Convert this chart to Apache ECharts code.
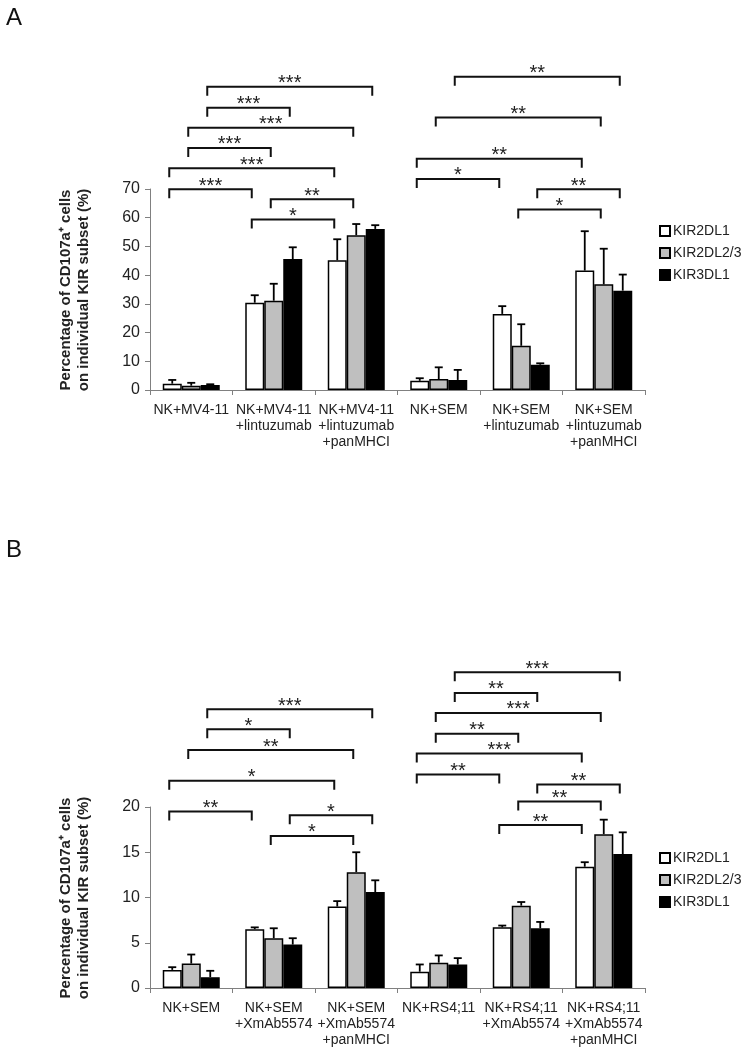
<!DOCTYPE html>
<html><head><meta charset="utf-8">
<script src="https://cdn.jsdelivr.net/npm/echarts@6/dist/echarts.min.js"></script>
<style>html,body{margin:0;padding:0;background:#fff}#c{width:745px;height:1050px}</style>
</head><body><div id="c"></div>
<script>
// ---------- data ----------
const seriesNames = ['KIR2DL1', 'KIR2DL2/3', 'KIR3DL1'];
const seriesColors = ['#ffffff', '#bfbfbf', '#000000'];

const catsA = ['NK+MV4-11', 'NK+MV4-11\n+lintuzumab', 'NK+MV4-11\n+lintuzumab\n+panMHCI',
               'NK+SEM', 'NK+SEM\n+lintuzumab', 'NK+SEM\n+lintuzumab\n+panMHCI'];
const meanA_2DL1   = [2.2, 30.4, 45.2, 3.2, 26.5, 41.6];
const errA_2DL1    = [1.3, 2.6, 7.3, 0.9, 2.7, 13.7];
const meanA_2DL23  = [1.5, 31.1, 53.9, 3.8, 15.4, 36.8];
const errA_2DL23   = [1.0, 5.9, 3.9, 4.1, 7.5, 12.4];
const meanA_3DL1   = [1.7, 45.6, 56.1, 3.5, 8.8, 34.6];
const errA_3DL1    = [0.3, 4.1, 1.3, 3.5, 0.5, 5.6];
const yTicksA = [0, 10, 20, 30, 40, 50, 60, 70];

const catsB = ['NK+SEM', 'NK+SEM\n+XmAb5574', 'NK+SEM\n+XmAb5574\n+panMHCI',
               'NK+RS4;11', 'NK+RS4;11\n+XmAb5574', 'NK+RS4;11\n+XmAb5574\n+panMHCI'];
const meanB_2DL1   = [2.0, 6.5, 9.0, 1.8, 6.7, 13.4];
const errB_2DL1    = [0.3, 0.2, 0.6, 0.8, 0.2, 0.5];
const meanB_2DL23  = [2.7, 5.5, 12.8, 2.8, 9.1, 17.0];
const errB_2DL23   = [1.0, 1.1, 2.2, 0.8, 0.4, 1.6];
const meanB_3DL1   = [1.2, 4.8, 10.6, 2.6, 6.6, 14.8];
const errB_3DL1    = [0.7, 0.7, 1.3, 0.7, 0.7, 2.4];
const yTicksB = [0, 5, 10, 15, 20];

// significance brackets: [fromGroup, fromSeries, toGroup, toSeries, level (y units), label]
const bracketsA = [
  [0, 2, 2, 2, 105.6, '***'],
  [0, 2, 1, 2, 98.3, '***'],
  [0, 1, 2, 1, 91.3, '***'],
  [0, 1, 1, 1, 84.3, '***'],
  [0, 0, 2, 0, 77.2, '***'],
  [0, 0, 1, 0, 69.9, '***'],
  [1, 1, 2, 1, 66.4, '**'],
  [1, 0, 2, 0, 59.4, '*'],
  [3, 2, 5, 2, 109.1, '**'],
  [3, 1, 5, 1, 94.9, '**'],
  [3, 0, 5, 0, 80.5, '**'],
  [3, 0, 4, 0, 73.5, '*'],
  [4, 2, 5, 2, 69.9, '**'],
  [4, 1, 5, 1, 62.9, '*']
];
const bracketsB = [
  [0, 2, 2, 2, 30.8, '***'],
  [0, 2, 1, 2, 28.6, '*'],
  [0, 1, 2, 1, 26.3, '**'],
  [0, 0, 2, 0, 22.9, '*'],
  [0, 0, 1, 0, 19.5, '**'],
  [1, 2, 2, 2, 19.1, '*'],
  [1, 1, 2, 1, 16.8, '*'],
  [3, 2, 5, 2, 34.9, '***'],
  [3, 2, 4, 2, 32.6, '**'],
  [3, 1, 5, 1, 30.4, '***'],
  [3, 1, 4, 1, 28.1, '**'],
  [3, 0, 5, 0, 25.9, '***'],
  [3, 0, 4, 0, 23.6, '**'],
  [4, 2, 5, 2, 22.5, '**'],
  [4, 1, 5, 1, 20.6, '**'],
  [4, 0, 5, 0, 18.0, '**']
];

// ---------- chart ----------
const FONT = '"Liberation Sans", Arial, sans-serif';
const BAR_W = 19;
const chart = echarts.init(document.getElementById('c'), null, {renderer: 'canvas'});

function errRender(offset) {
  return function (params, api) {
    const c = api.coord([api.value(0), api.value(1)]);
    const t = api.coord([api.value(0), api.value(2)]);
    const x = c[0] + offset;
    return {type: 'group', children: [
      {type: 'line', shape: {x1: x, y1: c[1], x2: x, y2: t[1]}, style: {stroke: '#000', lineWidth: 1.8}},
      {type: 'line', shape: {x1: x - 4, y1: t[1], x2: x + 4, y2: t[1]}, style: {stroke: '#000', lineWidth: 1.8}}
    ]};
  };
}
function bracketRender(list) {
  return function (params, api) {
    const b = list[params.dataIndex];
    const p1 = api.coord([b[0], b[4]]);
    const p2 = api.coord([b[2], b[4]]);
    const x1 = p1[0] + (b[1] - 1) * BAR_W - 3;
    const x2 = p2[0] + (b[3] - 1) * BAR_W - 3;
    const y = p1[1];
    return {type: 'group', children: [
      {type: 'polyline', shape: {points: [[x1, y + 9], [x1, y], [x2, y], [x2, y + 9]]},
       style: {stroke: '#111', lineWidth: 2, fill: null}},
      {type: 'text', style: {text: b[5], x: (x1 + x2) / 2, y: y - 3, align: 'center', verticalAlign: 'middle',
        font: '20px ' + FONT, fill: '#222'}}
    ]};
  };
}

const meansA = [meanA_2DL1, meanA_2DL23, meanA_3DL1];
const errsA = [errA_2DL1, errA_2DL23, errA_3DL1];
const meansB = [meanB_2DL1, meanB_2DL23, meanB_3DL1];
const errsB = [errB_2DL1, errB_2DL23, errB_3DL1];

const series = [];
function addPanel(idx, means, errs, brackets) {
  for (let s = 0; s < 3; s++) {
    series.push({
      type: 'bar', name: seriesNames[s], xAxisIndex: idx, yAxisIndex: idx,
      data: means[s], barWidth: BAR_W, barGap: '0%',
      itemStyle: {color: seriesColors[s], borderColor: '#000', borderWidth: 1.5},
      emphasis: {disabled: true}, z: 2
    });
  }
  for (let s = 0; s < 3; s++) {
    series.push({
      type: 'custom', xAxisIndex: idx, yAxisIndex: idx, z: 3,
      data: means[s].map((m, i) => [i, m, m + errs[s][i]]),
      encode: {x: 0, y: [1, 2]},
      renderItem: errRender((s - 1) * BAR_W)
    });
  }
  series.push({
    type: 'custom', xAxisIndex: idx, yAxisIndex: idx, clip: false, z: 4,
    data: brackets.map(b => [b[0], b[4]]),
    encode: {x: 0, y: 1},
    renderItem: bracketRender(brackets)
  });
}
addPanel(0, meansA, errsA, bracketsA);
addPanel(1, meansB, errsB, bracketsB);

function xAxis(cats, gi) {
  return {
    type: 'category', gridIndex: gi, data: cats,
    axisLine: {lineStyle: {color: '#808080', width: 1}},
    axisTick: {show: true, length: 5, lineStyle: {color: '#808080'}},
    axisLabel: {fontFamily: FONT, fontSize: 14, lineHeight: 16, color: '#222', margin: 12, interval: 0}
  };
}
function yAxis(ticks, gi) {
  return {
    type: 'value', gridIndex: gi, min: ticks[0], max: ticks[ticks.length - 1],
    interval: ticks[1] - ticks[0],
    splitLine: {show: false},
    axisLine: {show: true, lineStyle: {color: '#808080', width: 1}},
    axisTick: {show: true, length: 5, lineStyle: {color: '#808080'}},
    axisLabel: {fontFamily: FONT, fontSize: 16, color: '#222', margin: 10}
  };
}
function legend(top) {
  return {
    orient: 'vertical', left: 654, top: top, itemWidth: 10, itemHeight: 10, itemGap: 8,
    icon: 'rect', data: seriesNames, selectedMode: false,
    textStyle: {fontFamily: FONT, fontSize: 14, color: '#222', padding: [0, 0, 0, -2]}
  };
}
function yTitle(cx, cy) {
  return {
    type: 'text', x: cx, y: cy, rotation: Math.PI / 2,
    style: {text: 'Percentage of CD107a\u207A cells\non individual KIR subset (%)', align: 'center',
      verticalAlign: 'middle', font: 'bold 15px ' + FONT, lineHeight: 18, fill: '#222'}
  };
}

chart.setOption({
  animation: false,
  backgroundColor: '#fff',
  grid: [
    {left: 150, width: 495, top: 189, height: 201},
    {left: 150, width: 495, top: 807, height: 181}
  ],
  xAxis: [xAxis(catsA, 0), xAxis(catsB, 1)],
  yAxis: [yAxis(yTicksA, 0), yAxis(yTicksB, 1)],
  legend: [legend(219), legend(846)],
  graphic: [
    {type: 'text', x: 6, y: 6, style: {text: 'A', font: '24px ' + FONT, fill: '#111'}},
    {type: 'text', x: 6, y: 538, style: {text: 'B', font: '24px ' + FONT, fill: '#111'}},
    yTitle(75, 290),
    yTitle(75, 898)
  ],
  series: series
});
</script></body></html>
